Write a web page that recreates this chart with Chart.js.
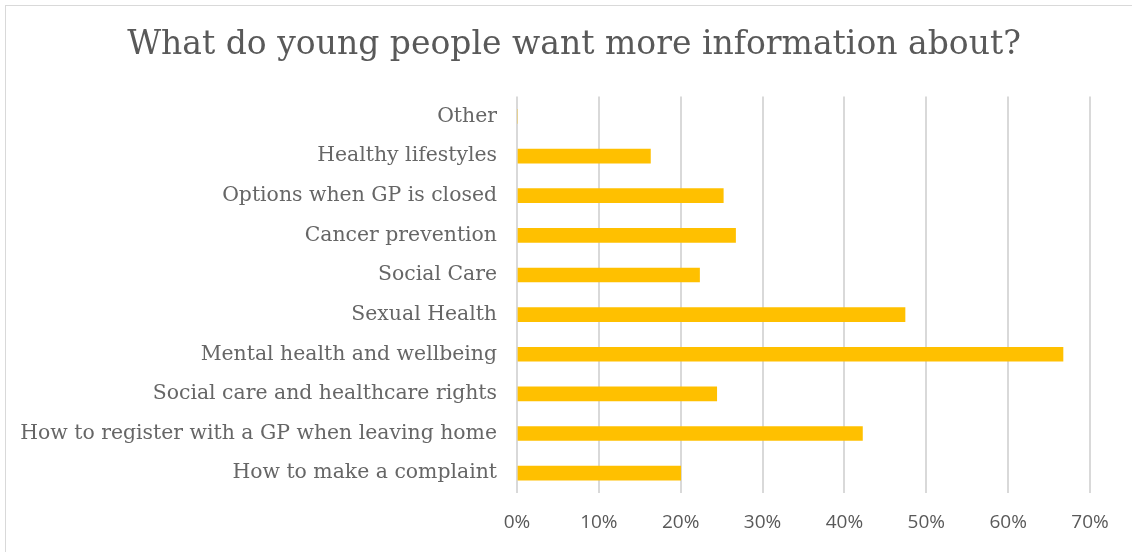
<!DOCTYPE html>
<html lang="en">
<head>
  <meta charset="UTF-8">
  <title>Information wanted by young people</title>
  <script src="https://cdn.jsdelivr.net/npm/chart.js"></script>
  <style>
    html, body {
      margin: 0;
      padding: 0;
      background: #ffffff;
      overflow: hidden;
    }

    .frame {
      position: absolute;
      left: 5px;
      top: 5px;
      width: 1136px;
      height: 556px;
      border: 1px solid #d9d9d9;
      background: #ffffff;
    }

    .frame canvas {
      display: block;
    }
  </style>
</head>
<body>

  <div class="frame"><canvas id="infoChart" width="1136" height="556"></canvas></div>

  <script>
    const topics = [
      "Other",
      "Healthy lifestyles",
      "Options when GP is closed",
      "Cancer prevention",
      "Social Care",
      "Sexual Health",
      "Mental health and wellbeing",
      "Social care and healthcare rights",
      "How to register with a GP when leaving home",
      "How to make a complaint"
    ];
    const shares = [0, 16.3, 25.2, 26.7, 22.3, 47.4, 66.7, 24.4, 42.2, 20.0];
    const axisTicks = [0, 10, 20, 30, 40, 50, 60, 70];

    const greyText = '#595959';

    new Chart(document.getElementById('infoChart'), {
      type: 'bar',
      data: {
        labels: topics,
        datasets: [{
          label: 'Share of young people',
          data: shares,
          backgroundColor: '#ffc000',
          barThickness: 14
        }]
      },
      options: {
        indexAxis: 'y',
        responsive: false,
        animation: false,
        layout: {
          padding: 0
        },
        plugins: {
          legend: { display: false },
          tooltip: { enabled: false },
          title: {
            display: true,
            text: 'What do young people want more information about?',
            color: greyText,
            font: { family: 'DejaVu Serif', size: 33, weight: 'normal' },
            padding: { top: 20, bottom: 31 }
          }
        },
        scales: {
          x: {
            min: 0,
            max: 70,
            afterBuildTicks: (scale) => {
              scale.ticks = axisTicks.map(v => ({ value: v }));
            },
            afterFit: (scale) => { scale.height = 69; },
            grid: { color: '#d9d9d9', lineWidth: 2, drawTicks: false },
            border: { display: false },
            ticks: {
              color: greyText,
              padding: 18,
              font: { family: 'Open Sans', size: 19 },
              callback: (v) => v + '%'
            }
          },
          y: {
            afterFit: (scale) => { scale.width = 511; },
            grid: { display: false },
            border: { display: false },
            ticks: {
              color: '#666666',
              padding: 12,
              font: { family: 'DejaVu Serif', size: 20.4, weight: 'normal' }
            }
          },
          // empty strip on the right so the plot stops at 70%
          spacer: {
            type: 'linear',
            position: 'right',
            afterFit: (scale) => { scale.width = 52; },
            grid: { display: false },
            border: { display: false },
            ticks: { display: false }
          }
        }
      }
    });
  </script>

</body>
</html>
